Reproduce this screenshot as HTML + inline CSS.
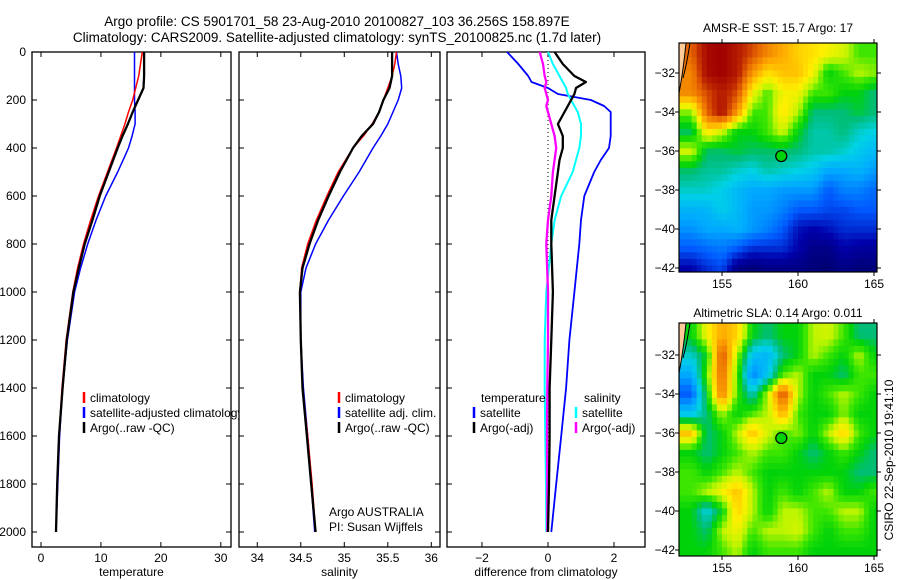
<!DOCTYPE html>
<html><head><meta charset="utf-8"><style>
html,body{margin:0;padding:0;background:#fff;}
svg{display:block;font-family:"Liberation Sans",sans-serif;}
</style></head><body>
<svg id="fig" width="900" height="580" viewBox="0 0 900 580" xmlns="http://www.w3.org/2000/svg">
<text x="337" y="26" font-size="13.5" text-anchor="middle">Argo profile: CS 5901701_58 23-Aug-2010 20100827_103 36.256S 158.897E</text>
<text x="337" y="42" font-size="13.5" text-anchor="middle">Climatology: CARS2009. Satellite-adjusted climatology: synTS_20100825.nc (1.7d later)</text>
<g id="g"></g>
</svg>
<script>
// ---- profile data ----
const depths = [0,50,100,150,200,250,300,350,400,500,600,700,800,900,1000,1200,1400,1600,1800,2000];
const tempArgo = [17.2,17.2,17.2,17.1,16.2,15.3,14.5,13.6,12.8,11.3,9.8,8.6,7.3,6.3,5.4,4.3,3.6,3.0,2.7,2.5];
const tempClim = [16.9,16.6,16.3,15.8,15.3,14.6,14.0,13.3,12.6,11.1,9.6,8.3,7.1,6.1,5.3,4.2,3.5,3.0,2.7,2.5];
const tempSat = [15.6,15.6,15.6,15.6,15.6,15.7,15.7,15.2,14.6,12.8,10.8,9.2,7.8,6.6,5.6,4.4,3.6,3.1,2.8,2.5];
const salArgo = [35.55,35.55,35.55,35.52,35.45,35.4,35.33,35.2,35.1,34.95,34.82,34.7,34.6,34.52,34.49,34.5,34.52,34.57,34.62,34.67];
const salClim = [35.6,35.58,35.55,35.5,35.45,35.4,35.32,35.22,35.1,34.93,34.8,34.68,34.58,34.51,34.49,34.5,34.52,34.58,34.63,34.67];
const salSat = [35.6,35.62,35.65,35.66,35.62,35.56,35.5,35.42,35.33,35.17,34.99,34.82,34.67,34.56,34.5,34.5,34.53,34.58,34.62,34.66];
const diffDepths = [0,50,100,125,150,175,200,225,250,300,350,400,450,500,600,700,800,1000,1200,1400,1600,1800,2000];
const dTempSat = [-1.24,-0.9,-0.6,-0.5,0.0,0.3,1.3,1.7,1.9,1.9,1.9,1.85,1.6,1.4,1.1,1.0,0.95,0.8,0.65,0.55,0.4,0.25,0.1];
const dTempArgo = [0.2,0.45,0.8,1.15,0.85,0.8,0.7,0.6,0.5,0.3,0.45,0.45,0.35,0.3,0.2,0.1,0.1,0.15,0.1,0.05,0.05,0.03,0.0];
const dSalSat = [0,0.15,0.35,0.45,0.55,0.6,0.7,0.8,0.9,1.0,1.0,0.95,0.85,0.75,0.4,0.2,0.1,-0.05,-0.1,-0.1,-0.08,-0.06,-0.05];
const dSalArgo = [-0.25,-0.15,-0.1,-0.05,-0.1,-0.05,0,-0.05,0.0,0.1,0.2,0.25,0.2,0.15,0.1,0.0,-0.05,0.0,0.0,-0.02,-0.03,-0.02,-0.02];
const depthTicks = [0,200,400,600,800,1000,1200,1400,1600,1800,2000];
const tempTicks = [0,10,20,30];
const salTicks = [34,34.5,35,35.5,36];
const diffTicks = [-2,0,2];
// ---- map data (colour index 0..1), rows lat -31..-42, cols lon 153..165 ----
const mapLons = [153,154,155,156,157,158,159,160,161,162,163,164,165];
const mapLats = [-31,-32,-33,-34,-35,-36,-37,-38,-39,-40,-41,-42];
const sstGrid = [
[0.85,0.98,1.0,0.95,0.88,0.8,0.75,0.7,0.68,0.65,0.62,0.55,0.55],
[0.8,0.98,1.0,0.95,0.78,0.68,0.72,0.72,0.65,0.5,0.55,0.6,0.58],
[0.8,0.88,0.95,0.88,0.65,0.55,0.65,0.65,0.55,0.55,0.5,0.5,0.45],
[0.58,0.85,0.97,0.78,0.55,0.55,0.68,0.6,0.45,0.45,0.45,0.48,0.45],
[0.46,0.68,0.62,0.5,0.5,0.55,0.62,0.5,0.42,0.42,0.45,0.4,0.38],
[0.62,0.46,0.46,0.48,0.46,0.46,0.46,0.45,0.42,0.42,0.4,0.36,0.33],
[0.46,0.43,0.43,0.4,0.38,0.42,0.4,0.38,0.36,0.3,0.3,0.32,0.28],
[0.4,0.4,0.37,0.33,0.3,0.3,0.28,0.28,0.28,0.2,0.25,0.25,0.22],
[0.32,0.32,0.37,0.33,0.28,0.28,0.25,0.2,0.2,0.18,0.18,0.2,0.2],
[0.27,0.3,0.3,0.32,0.28,0.25,0.2,0.12,0.1,0.12,0.15,0.15,0.15],
[0.2,0.22,0.24,0.2,0.15,0.15,0.15,0.1,0.05,0.05,0.1,0.08,0.08],
[0.1,0.15,0.18,0.05,0.03,0.05,0.05,0.05,0.03,0.02,0.05,0.03,0.03]];
const slaGrid = [
[0.5,0.65,0.75,0.7,0.5,0.45,0.5,0.5,0.6,0.62,0.55,0.45,0.45],
[0.4,0.5,0.88,0.6,0.35,0.32,0.45,0.5,0.6,0.55,0.5,0.6,0.5],
[0.3,0.55,0.85,0.55,0.25,0.35,0.55,0.6,0.5,0.5,0.45,0.55,0.55],
[0.2,0.5,0.82,0.55,0.4,0.6,0.88,0.6,0.5,0.55,0.6,0.55,0.5],
[0.35,0.45,0.6,0.5,0.55,0.6,0.75,0.55,0.5,0.5,0.58,0.5,0.5],
[0.72,0.45,0.5,0.6,0.72,0.62,0.55,0.58,0.5,0.6,0.7,0.55,0.5],
[0.5,0.45,0.5,0.55,0.6,0.55,0.55,0.5,0.45,0.5,0.55,0.5,0.45],
[0.55,0.5,0.55,0.6,0.55,0.5,0.5,0.5,0.5,0.5,0.5,0.45,0.45],
[0.55,0.6,0.65,0.72,0.6,0.5,0.55,0.5,0.55,0.6,0.5,0.5,0.55],
[0.5,0.38,0.5,0.7,0.6,0.5,0.6,0.6,0.55,0.55,0.6,0.6,0.5],
[0.5,0.45,0.6,0.65,0.55,0.6,0.6,0.62,0.55,0.5,0.55,0.55,0.5],
[0.5,0.5,0.55,0.6,0.5,0.55,0.55,0.55,0.5,0.5,0.5,0.5,0.5]];
const mapLonTicks = [155,160,165];
const mapLatTicks = [-32,-34,-36,-38,-40,-42];
const argoLon = 158.9, argoLat = -36.26;

const NS = "http://www.w3.org/2000/svg";
const G = document.getElementById('g');
function el(tag, attrs, parent, txt){
  const e = document.createElementNS(NS, tag);
  for (const k in attrs) e.setAttribute(k, attrs[k]);
  if (txt !== undefined) e.textContent = txt;
  (parent||G).appendChild(e);
  return e;
}
const PT = 52, PB = 547;
const yD = d => 52 + d * 0.24;
function panel(name, x0, x1, xmin, xmax, xticks, xlabel, showY){
  const g = el('g', {});
  
  
  const xs = v => x0 + (v - xmin) / (xmax - xmin) * (x1 - x0);
  const r = el('rect', {x:x0, y:PT, width:x1-x0, height:PB-PT, fill:'#fff', stroke:'#000', 'stroke-width':1.3}, g);
  
  
  depthTicks.forEach(d => {
    const y = yD(d);
    el('line', {x1:x0, x2:x0+5, y1:y, y2:y, stroke:'#000'}, g);
    el('line', {x1:x1, x2:x1-5, y1:y, y2:y, stroke:'#000'}, g);
    if (showY) {
      const t = el('text', {x:x0-6, y:y+4, 'font-size':12, 'text-anchor':'end'}, g, d);
      
      
    }
  });
  xticks.forEach(v => {
    const x = xs(v);
    el('line', {x1:x, x2:x, y1:PT, y2:PT+5, stroke:'#000'}, g);
    el('line', {x1:x, x2:x, y1:PB, y2:PB-5, stroke:'#000'}, g);
    const t = el('text', {x:x, y:PB+15, 'font-size':12, 'text-anchor':'middle'}, g, v < 0 ? '\u2212' + (-v) : v);
    
    
  });
  const xl = el('text', {x:(x0+x1)/2, y:PB+29, 'font-size':12, 'text-anchor':'middle'}, g, xlabel);
  
  
  return {g, xs};
}
function series(p, name, ds, vs, color, w){
  const pts = ds.map((d,i) => p.xs(vs[i]).toFixed(1) + ',' + yD(d).toFixed(1)).join(' ');
  const l = el('polyline', {points:pts, fill:'none', stroke:color, 'stroke-width':w, 'stroke-linejoin':'round'}, p.g);
  
  
}
function legend(g, x, y, color, label){
  const b = el('line', {x1:x, x2:x, y1:y-10, y2:y+1, stroke:color, 'stroke-width':2.5}, g);
  
  
  const t = el('text', {x:x+6, y:y, 'font-size':12}, g, label);
  
  
}
// panel 1
const p1 = panel('temperature-panel', 32, 231, -1.5, 31.7, tempTicks, 'temperature', true);
series(p1, 'temp-satellite-line', depths, tempSat, '#0000ff', 1.5);
series(p1, 'temp-climatology-line', depths, tempClim, '#ff0000', 1.5);
series(p1, 'temp-argo-line', depths, tempArgo, '#000', 2.3);
legend(p1.g, 84, 402, '#ff0000', 'climatology');
legend(p1.g, 84, 417, '#0000ff', 'satellite-adjusted climatology');
legend(p1.g, 84, 432, '#000', 'Argo(..raw -QC)');
// panel 2
const p2 = panel('salinity-panel', 239, 440, 33.79, 36.1, salTicks, 'salinity', false);
series(p2, 'sal-satellite-line', depths, salSat, '#0000ff', 1.5);
series(p2, 'sal-climatology-line', depths, salClim, '#ff0000', 1.5);
series(p2, 'sal-argo-line', depths, salArgo, '#000', 2.3);
legend(p2.g, 339, 402, '#ff0000', 'climatology');
legend(p2.g, 339, 417, '#0000ff', 'satellite adj. clim.');
legend(p2.g, 339, 432, '#000', 'Argo(..raw -QC)');
let t = el('text', {x:329, y:516, 'font-size':12}, p2.g, 'Argo AUSTRALIA');
 
t = el('text', {x:329, y:531, 'font-size':12}, p2.g, 'PI: Susan Wijffels');
 
// panel 3
const p3 = panel('difference-panel', 447, 645, -3.06, 2.94, diffTicks, 'difference from climatology', false);
const zl = el('line', {x1:p3.xs(0), x2:p3.xs(0), y1:PT, y2:yD(2000), stroke:'#000', 'stroke-dasharray':'1,3'}, p3.g);
 
series(p3, 'diff-temp-satellite-line', diffDepths, dTempSat, '#0000ff', 1.8);
series(p3, 'diff-sal-satellite-line', diffDepths, dSalSat, '#00ffff', 2);
series(p3, 'diff-sal-argo-line', diffDepths, dSalArgo, '#ff00ff', 2.3);
series(p3, 'diff-temp-argo-line', diffDepths, dTempArgo, '#000', 2.3);
t = el('text', {x:481, y:402, 'font-size':12}, p3.g, 'temperature');
 
t = el('text', {x:584, y:402, 'font-size':12}, p3.g, 'salinity');
 
legend(p3.g, 474, 417, '#0000ff', 'satellite');
legend(p3.g, 474, 432, '#000', 'Argo(-adj)');
legend(p3.g, 576, 417, '#00ffff', 'satellite');
legend(p3.g, 576, 432, '#ff00ff', 'Argo(-adj)');

// ---- maps ----
const CMAP = [[0,0,0,100],[0.1,0,0,170],[0.2,0,90,255],[0.3,0,170,255],[0.38,0,210,230],[0.45,0,190,120],[0.5,0,210,10],[0.55,60,230,0],[0.6,190,245,0],[0.66,255,240,0],[0.75,255,170,0],[0.85,230,100,0],[0.92,190,40,0],[1,160,0,0]];
function cmap(v){
  v = Math.max(0, Math.min(1, v));
  for (let k = 1; k < CMAP.length; k++) {
    if (v <= CMAP[k][0]) {
      const a = CMAP[k-1], b = CMAP[k], f = (v - a[0]) / (b[0] - a[0]);
      return 'rgb(' + [1,2,3].map(i => Math.round(a[i] + (b[i]-a[i])*f)).join(',') + ')';
    }
  }
  return 'rgb(160,0,0)';
}
function sample(grid, fi, fj){
  fi = Math.max(0, Math.min(grid.length-1, fi));
  fj = Math.max(0, Math.min(grid[0].length-1, fj));
  const i0 = Math.floor(fi), j0 = Math.floor(fj);
  const i1 = Math.min(i0+1, grid.length-1), j1 = Math.min(j0+1, grid[0].length-1);
  const a = fi - i0, b = fj - j0;
  return grid[i0][j0]*(1-a)*(1-b) + grid[i0][j1]*(1-a)*b + grid[i1][j0]*a*(1-b) + grid[i1][j1]*a*b;
}
function drawMap(name, grid, top, bottom, lat32y, title, titleY){
  const L = 679, R = 877, dx = 15.2, dy = 19.5;
  const xs = lon => 722 + (lon - 155) * dx;
  const ys = lat => lat32y + (-32 - lat) * dy;
  const g = el('g', {});
  
  
  const cid = name + '-clip';
  const cp = el('clipPath', {id:cid}, g);
  el('rect', {x:L, y:top, width:R-L, height:bottom-top}, cp);
  const cells = el('g', {'clip-path':'url(#' + cid + ')'}, g);
  const S = 3, step = 1 / S;
  for (let lat = -30.2; lat > -42.6; lat -= step) {
    for (let lon = 152.0; lon < 165.4; lon += step) {
      const fi = (-31 - lat) + step/2, fj = (lon - 153) + step/2;
      const v = sample(grid, fi, fj);
      const x0 = xs(lon), y0 = ys(lat);
      const c = el('rect', {x:x0.toFixed(1), y:y0.toFixed(1), width:(dx*step+0.6).toFixed(1), height:(dy*step+0.6).toFixed(1), fill:cmap(v)}, cells);
      
      
    }
  }
  const land = el('path', {d:`M${L},${top} L${L+7},${top} Q${L+4},${top+30} ${L},${top+50} Z`, fill:'#ffcc99'}, cells);
   
  const cst = el('path', {d:`M${L+7},${top} Q${L+4},${top+30} ${L},${top+50} M${L+11},${top} Q${L+8},${top+20} ${L+4},${top+35}`, fill:'none', stroke:'#000', 'stroke-width':1}, cells);
   
  const fr = el('rect', {x:L, y:top, width:R-L, height:bottom-top, fill:'none', stroke:'#000', 'stroke-width':1.2}, g);
   
  mapLatTicks.forEach(lat => {
    const y = ys(lat);
    el('line', {x1:L, x2:L-4, y1:y, y2:y, stroke:'#000'}, g);
    el('line', {x1:R, x2:R+4, y1:y, y2:y, stroke:'#000'}, g);
    const tl = el('text', {x:L-4, y:y+4, 'font-size':12, 'text-anchor':'end'}, g, '\u2212' + (-lat));
     
  });
  mapLonTicks.forEach(lon => {
    const x = xs(lon);
    el('line', {x1:x, x2:x, y1:top, y2:top-4, stroke:'#000'}, g);
    el('line', {x1:x, x2:x, y1:bottom, y2:bottom+4, stroke:'#000'}, g);
    const tl = el('text', {x:x, y:bottom+16, 'font-size':12, 'text-anchor':'middle'}, g, lon);
     
  });
  const m = el('circle', {cx:xs(argoLon), cy:ys(argoLat), r:5.5, fill:cmap(0.5), stroke:'#000', 'stroke-width':1.2}, g);
   
  const tt = el('text', {x:778, y:titleY, 'font-size':12, 'text-anchor':'middle'}, g, title);
   
}
drawMap('sst-map', sstGrid, 43, 272, 73, 'AMSR-E SST: 15.7 Argo: 17', 32);
drawMap('sla-map', slaGrid, 323, 556, 355, 'Altimetric SLA: 0.14 Argo: 0.011', 317);
const st = el('text', {x:0, y:0, 'font-size':12, 'text-anchor':'middle', transform:'translate(893,460) rotate(-90)'}, G, 'CSIRO 22-Sep-2010 19:41:10');


</script>
</body></html>
